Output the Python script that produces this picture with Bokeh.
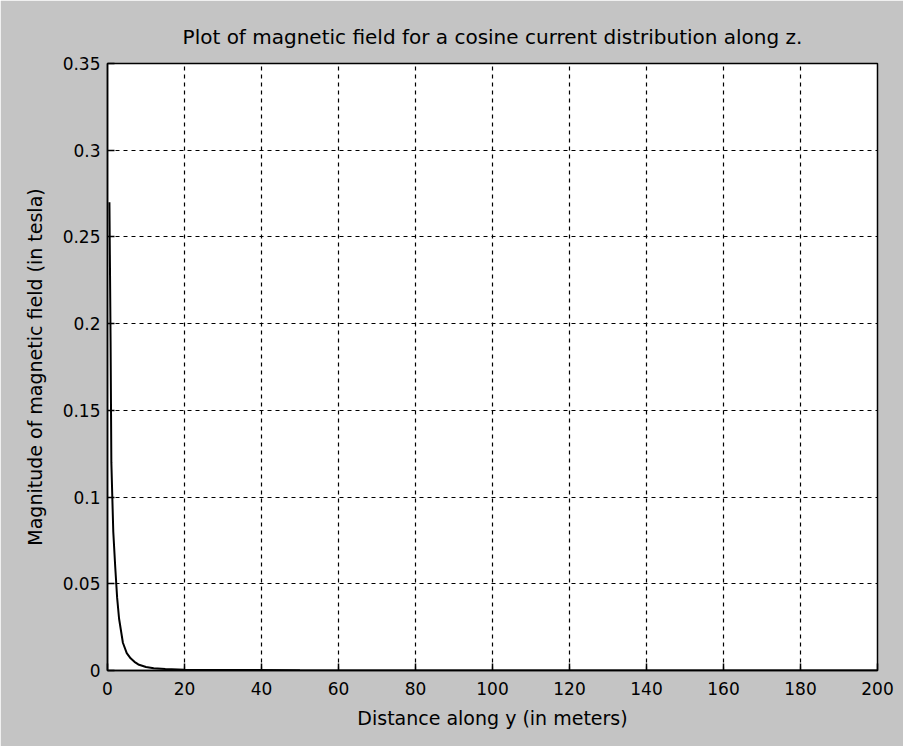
from bokeh.plotting import figure
from bokeh.models import FixedTicker, LinearAxis, Range1d, Title
from bokeh.embed import file_html
from bokeh.resources import INLINE

# data
distance_m = [0.5, 0.8, 1.0, 1.5, 2.0, 2.5, 3.0, 4.0, 5.0, 6.0, 7.0, 8.0, 10.0, 12.0, 15.0, 20.0, 50.0, 100.0, 150.0, 200.0]
field_tesla = [0.27, 0.19, 0.12, 0.08, 0.06, 0.042, 0.03, 0.016, 0.01, 0.007, 0.005, 0.0035, 0.002, 0.0013, 0.0008, 0.0005, 0.0001, 0.00003, 0.00001, 0.000005]

x_ticks = [0, 20, 40, 60, 80, 100, 120, 140, 160, 180, 200]
x_labels = ["0", "20", "40", "60", "80", "100", "120", "140", "160", "180", "200"]
y_ticks = [0, 0.05, 0.1, 0.15, 0.2, 0.25, 0.3, 0.35]
y_labels = ["0", "0.05", "0.1", "0.15", "0.2", "0.25", "0.3", "0.35"]

title_text = "Plot of magnetic field for a cosine current distribution along z."
x_title = "Distance along y (in meters)"
y_title = "Magnitude of magnetic field (in tesla)"

FONT = "DejaVu Sans"
BG = "#c4c4c4"

p = figure(width=903, height=746, output_backend="svg", toolbar_location=None,
           x_range=Range1d(0, 200), y_range=Range1d(0, 0.35),
           x_axis_location=None, y_axis_location=None,
           min_border_left=107, min_border_right=26, min_border_top=63, min_border_bottom=76)
p.border_fill_color = BG
p.background_fill_color = "white"
p.outline_line_color = "black"
p.outline_line_width = 1.5

xt = FixedTicker(ticks=x_ticks)
yt = FixedTicker(ticks=y_ticks)

def style(ax, labels, label_text, standoff, label_standoff):
    ax.axis_line_color = "black"
    ax.axis_line_width = 1.5
    ax.major_tick_in = 7
    ax.major_tick_out = 0
    ax.major_tick_line_color = "black"
    ax.major_tick_line_width = 1.5
    ax.minor_tick_line_color = None
    ax.major_label_text_font = FONT
    ax.major_label_text_font_size = "17px"
    ax.major_label_text_color = "black"
    ax.major_label_overrides = labels
    ax.major_label_standoff = standoff
    ax.axis_label = label_text
    ax.axis_label_text_font = FONT
    ax.axis_label_text_font_size = "19px"
    ax.axis_label_text_font_style = "normal"
    ax.axis_label_text_color = "black"
    ax.axis_label_standoff = label_standoff

xb = LinearAxis(ticker=xt)
style(xb, {t: l for t, l in zip(x_ticks, x_labels)}, x_title, 11, 9)
yl = LinearAxis(ticker=yt)
style(yl, {t: l for t, l in zip(y_ticks, y_labels)}, y_title, 7, 14)
p.add_layout(xb, "below")
p.add_layout(yl, "left")

p.xgrid.ticker = xt
p.ygrid.ticker = yt
for g in (p.xgrid, p.ygrid):
    g.grid_line_color = "black"
    g.grid_line_dash = "4 4"
    g.grid_line_width = 1.2

t = Title(text=title_text, align="center", text_font=FONT, text_font_size="20px",
          text_font_style="normal", text_color="black", offset=0, standoff=29)
p.add_layout(t, "above")

p.line(distance_m, field_tesla, line_color="black", line_width=2)

open("out.html", "w").write(file_html(p, INLINE))
